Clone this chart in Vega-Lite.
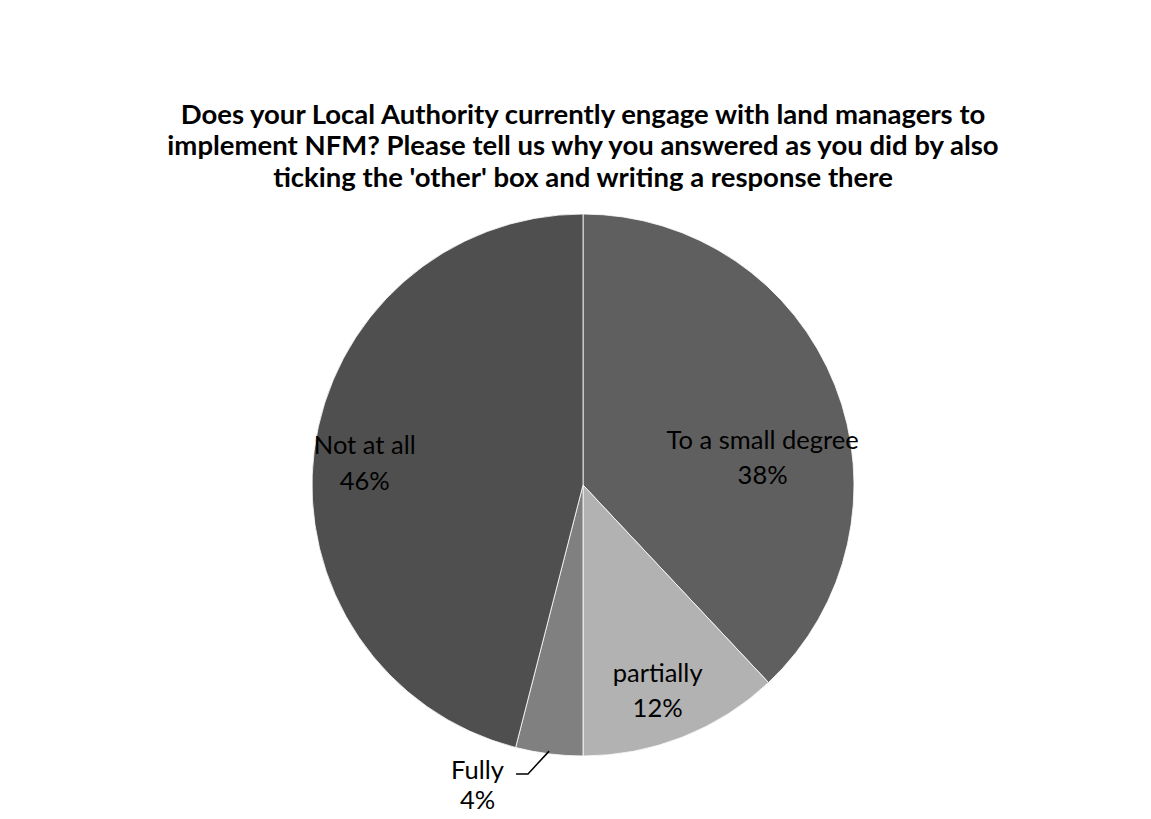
{
  "$schema": "https://vega.github.io/schema/vega-lite/v6.json",
  "width": 1134,
  "height": 542,
  "padding": {"left": 16, "top": 101, "right": 0, "bottom": 0},
  "background": "white",
  "config": {"view": {"stroke": null}, "font": "Lato"},
  "title": {
    "text": ["Does your Local Authority currently engage with land managers to", "implement NFM? Please tell us why you answered as you did by also", "ticking the 'other' box and writing a response there"],
    "font": "Lato",
    "fontSize": 27.5,
    "fontWeight": "bold",
    "color": "#000000",
    "lineHeight": 31.5,
    "anchor": "middle",
    "offset": 20
  },
  "datasets": {
    "slices": [
      {"cat": "To a small degree", "value": 38, "order": 1, "label": "To a small degree\n38%"},
      {"cat": "partially", "value": 12, "order": 2, "label": "partially\n12%"},
      {"cat": "Fully", "value": 4, "order": 3, "label": "Fully\n4%"},
      {"cat": "Not at all", "value": 46, "order": 4, "label": "Not at all\n46%"}
    ],
    "leader": [
      {"px": -0.125, "py": -0.982, "i": 1},
      {"px": -0.203, "py": -1.066, "i": 2},
      {"px": -0.247, "py": -1.066, "i": 3}
    ]
  },
  "layer": [
    {
      "data": {"name": "slices"},
      "mark": {"type": "arc", "stroke": "#ffffff", "strokeWidth": 0.8},
      "encoding": {
        "theta": {"field": "value", "type": "quantitative", "stack": true},
        "order": {"field": "order", "type": "quantitative"},
        "color": {
          "field": "cat", "type": "nominal", "legend": null,
          "scale": {"domain": ["To a small degree", "partially", "Fully", "Not at all"], "range": ["#5f5f5f", "#b2b2b2", "#808080", "#4f4f4f"]}
        }
      }
    },
    {
      "data": {"name": "slices"},
      "mark": {"type": "text", "radius": 219, "dx": -24, "dy": 37, "fontSize": 25.5, "lineBreak": "\n", "lineHeight": 35, "color": "#000000", "baseline": "middle", "align": "center"},
      "encoding": {
        "theta": {"field": "value", "type": "quantitative", "stack": true},
        "order": {"field": "order", "type": "quantitative"},
        "text": {"condition": {"test": "datum.cat === 'To a small degree'", "field": "label"}, "value": ""}
      }
    },
    {
      "data": {"name": "slices"},
      "mark": {"type": "text", "radius": 219, "dx": -6, "dy": -15, "fontSize": 25.5, "lineBreak": "\n", "lineHeight": 35, "color": "#000000", "baseline": "middle", "align": "center"},
      "encoding": {
        "theta": {"field": "value", "type": "quantitative", "stack": true},
        "order": {"field": "order", "type": "quantitative"},
        "text": {"condition": {"test": "datum.cat === 'partially'", "field": "label"}, "value": ""}
      }
    },
    {
      "data": {"name": "slices"},
      "mark": {"type": "text", "radius": 219, "dx": -78, "dy": 69, "fontSize": 25.5, "lineBreak": "\n", "lineHeight": 30, "color": "#000000", "baseline": "middle", "align": "center"},
      "encoding": {
        "theta": {"field": "value", "type": "quantitative", "stack": true},
        "order": {"field": "order", "type": "quantitative"},
        "text": {"condition": {"test": "datum.cat === 'Fully'", "field": "label"}, "value": ""}
      }
    },
    {
      "data": {"name": "slices"},
      "mark": {"type": "text", "radius": 219, "dx": -1, "dy": -12, "fontSize": 25.5, "lineBreak": "\n", "lineHeight": 36, "color": "#000000", "baseline": "middle", "align": "center"},
      "encoding": {
        "theta": {"field": "value", "type": "quantitative", "stack": true},
        "order": {"field": "order", "type": "quantitative"},
        "text": {"condition": {"test": "datum.cat === 'Not at all'", "field": "label"}, "value": ""}
      }
    },
    {
      "data": {"name": "leader"},
      "mark": {"type": "line", "color": "#000000", "strokeWidth": 1.5},
      "encoding": {
        "x": {"field": "px", "type": "quantitative", "axis": null, "scale": {"domain": [-2.0923, 2.0923], "zero": false, "nice": false}},
        "y": {"field": "py", "type": "quantitative", "axis": null, "scale": {"domain": [-1, 1], "zero": false, "nice": false}},
        "order": {"field": "i", "type": "quantitative"}
      }
    }
  ]
}
